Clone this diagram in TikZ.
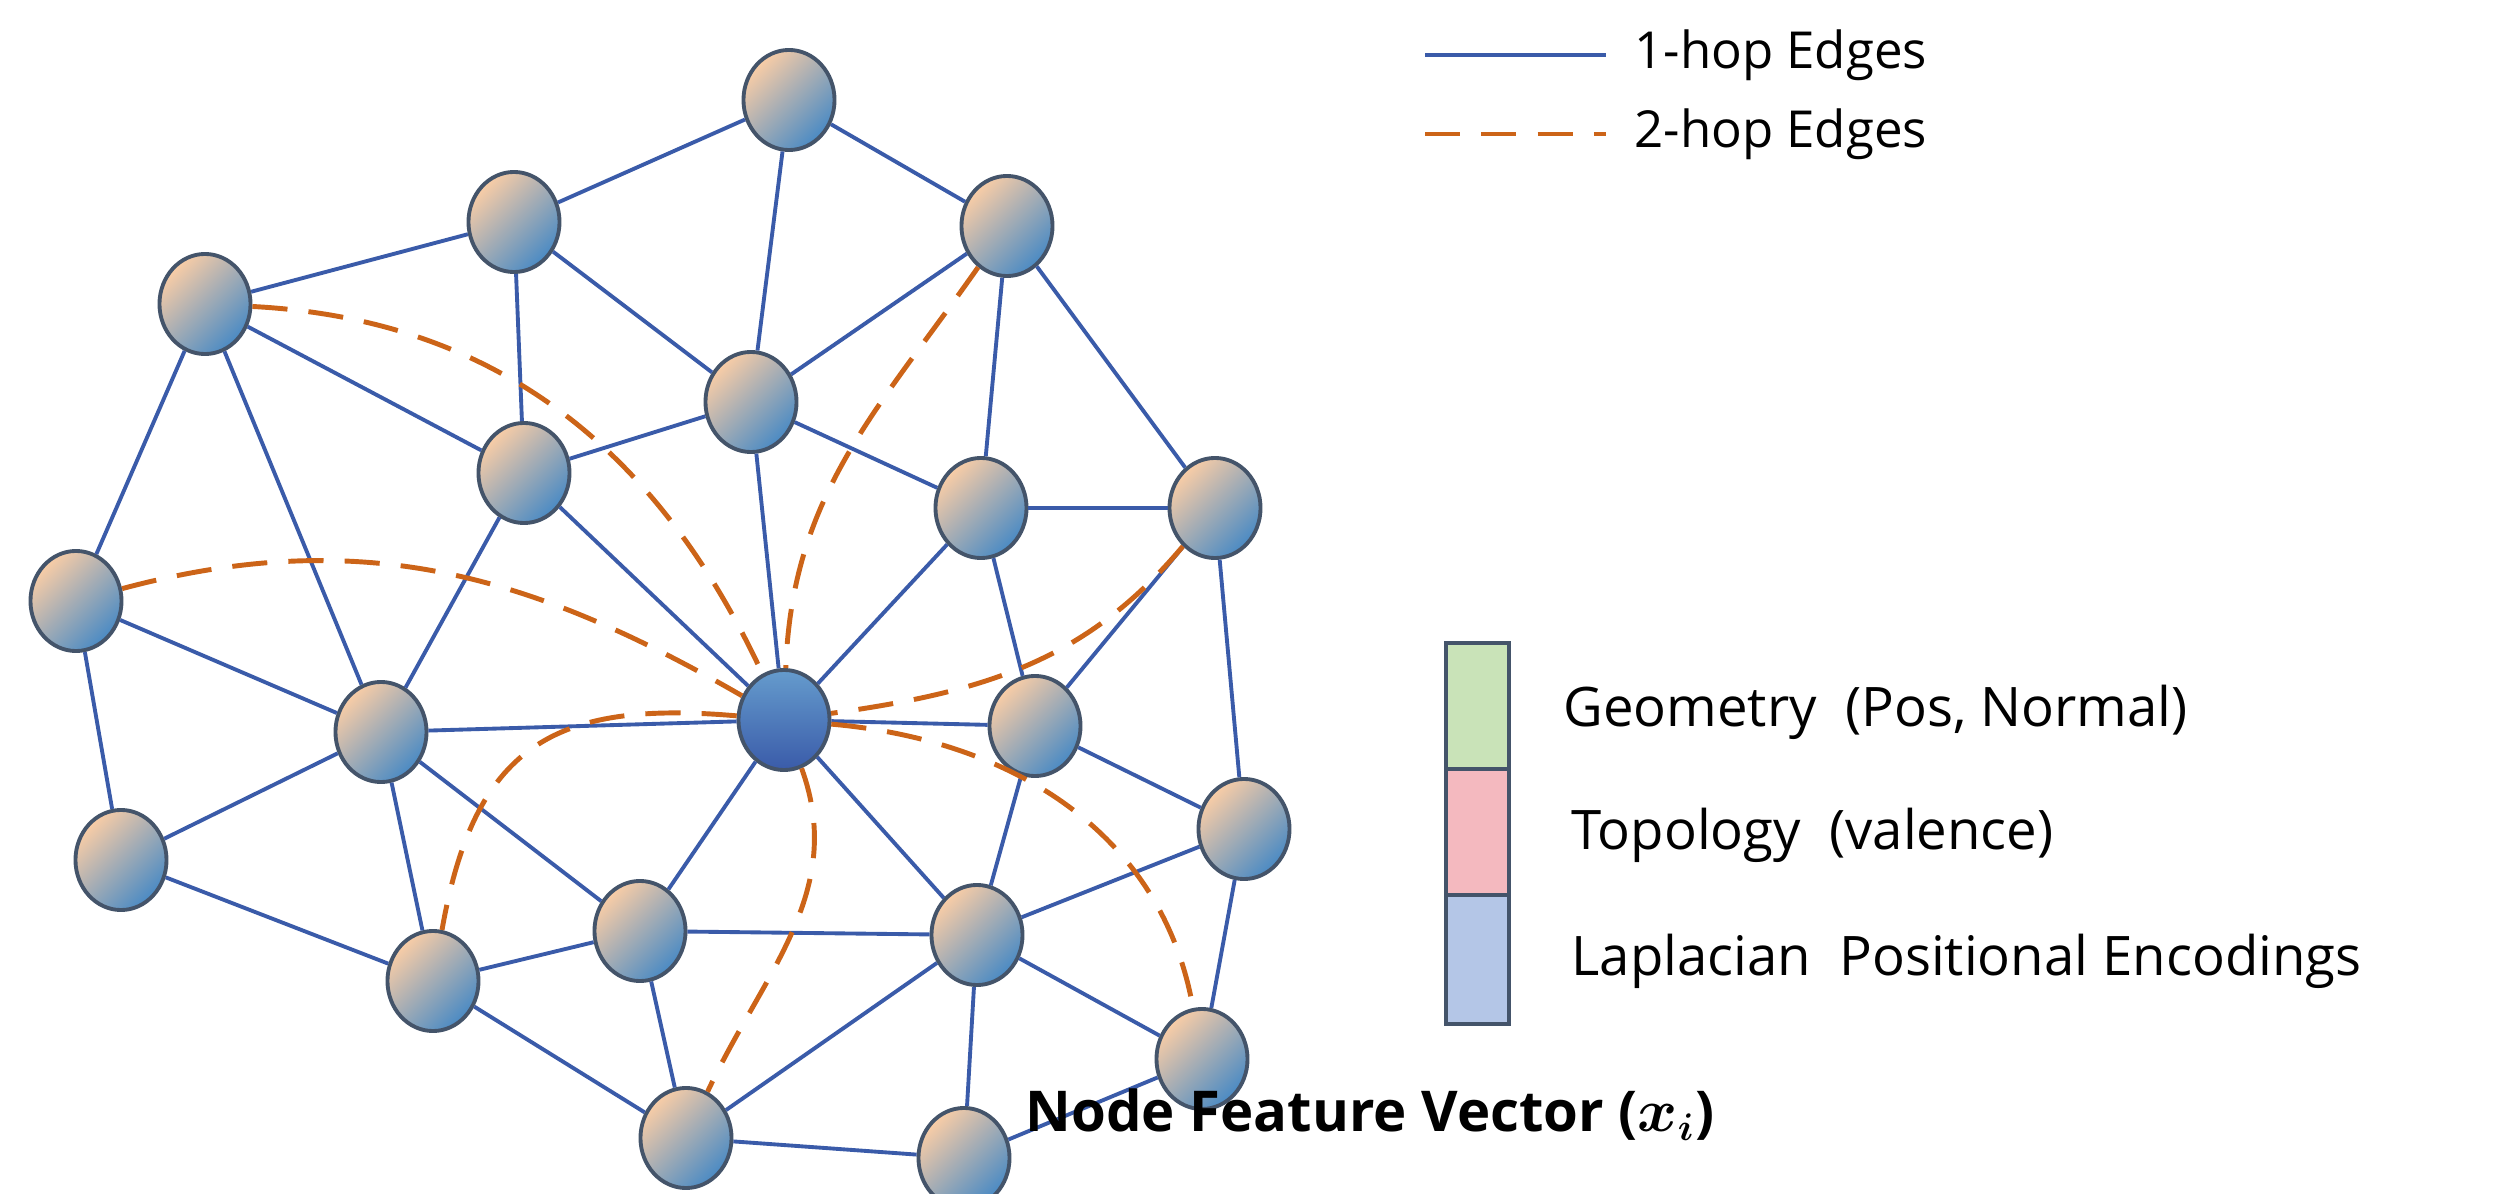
\documentclass[tikz,border=0pt]{standalone}
\usepackage{bm}
\usepackage{fontspec}
\setmainfont{Open Sans}
\usetikzlibrary{shapes.geometric}
\definecolor{peach}{HTML}{F9CDA6}
\definecolor{steel}{HTML}{4A8AC4}
\definecolor{edgeblue}{HTML}{3A5BA9}
\definecolor{hoporange}{HTML}{CC6418}
\definecolor{rim}{HTML}{44546A}
\definecolor{geogreen}{HTML}{C9E3B8}
\definecolor{topopink}{HTML}{F4B9BF}
\definecolor{lapblue}{HTML}{B4C6E7}
\tikzstyle{vertex}=[
	ellipse,
	minimum width=0.91cm,
	minimum height=1cm,
	line width=1.1pt,
	draw=rim,
	top color=peach,
	middle color=peach!95!steel,
	bottom color=steel,
	shading angle=45
]
\tikzstyle{anchorvertex}=[
	vertex,
	top color=steel!85!white,
	middle color=steel!60!edgeblue,
	bottom color=edgeblue
]
\tikzstyle{onehop}=[
	draw=edgeblue,
	line width=1.1pt
]
\tikzstyle{twohop}=[
	draw=hoporange,
	line width=1.4pt,
	dash pattern=on 10pt off 6pt
]
\tikzstyle{slot}=[
	draw=rim,
	line width=1.1pt
]
\tikzstyle{caption}=[
	anchor=west,
	font=\fontsize{14.5}{18}\selectfont
]

\begin{document}
\begin{tikzpicture}[x=0.01cm,y=0.01cm]
\useasboundingbox (0,0) rectangle (2520,1193);
% graph
\node [vertex] (Top) at (789,1093) {};
\node [vertex] (UpperA) at (514,971) {};
\node [vertex] (UpperB) at (1007,967) {};
\node [vertex] (FarNW) at (205,889) {};
\node [vertex] (InnerN) at (751,791) {};
\node [vertex] (InnerNW) at (524,720) {};
\node [vertex] (InnerNE) at (981,685) {};
\node [vertex] (FarE) at (1215,685) {};
\node [vertex] (FarW) at (76,592) {};
\node [anchorvertex] (Hub) at (784,473) {};
\node [vertex] (InnerW) at (381,461) {};
\node [vertex] (InnerE) at (1035,467) {};
\node [vertex] (FarSE) at (1244,364) {};
\node [vertex] (FarSW) at (121,333) {};
\node [vertex] (InnerS) at (640,262) {};
\node [vertex] (InnerSE) at (977,258) {};
\node [vertex] (LowerW) at (433,212) {};
\node [vertex] (LowerE) at (1202,134) {};
\node [vertex] (BottomA) at (686,55) {};
\node [vertex] (BottomB) at (964,35) {};

\foreach \u/\v in {Top/UpperA, Top/InnerN, Top/UpperB, UpperA/FarNW, UpperA/InnerNW,
	UpperA/InnerN, UpperB/InnerN, UpperB/InnerNE, UpperB/FarE, FarNW/InnerNW, FarNW/FarW,
	FarNW/InnerW, InnerN/InnerNW, InnerN/InnerNE, InnerN/Hub, InnerNW/InnerW, InnerNW/Hub,
	InnerNE/FarE, InnerNE/Hub, InnerNE/InnerE, FarE/InnerE, FarE/FarSE, FarW/InnerW,
	FarW/FarSW, InnerW/Hub, InnerW/FarSW, InnerW/LowerW, InnerW/InnerS, Hub/InnerS,
	Hub/InnerSE, Hub/InnerE, InnerE/InnerSE, InnerE/FarSE, FarSE/InnerSE, FarSE/LowerE,
	FarSW/LowerW, LowerW/InnerS, LowerW/BottomA, InnerS/BottomA, InnerS/InnerSE,
	InnerSE/BottomA, InnerSE/BottomB, InnerSE/LowerE, LowerE/BottomB, BottomA/BottomB}
	\path [onehop] (\u) -- (\v);

% 2-hop neighbours of the hub
\path [twohop] (FarNW) to [out=-3, in=115] (Hub);
\path [twohop] (FarW) to [out=15, in=150] (Hub);
\path [twohop] (UpperB) to [out=-125, in=88] (Hub);
\path [twohop] (FarE) to [out=-130, in=8] (Hub);
\path [twohop] (Hub) to [out=-5, in=100] (LowerE);
\path [twohop] (Hub) to [out=-70, in=65] (BottomA);
\path [twohop] (Hub) to [out=175, in=80, looseness=1.3] (LowerW);

% legend
\coordinate (OneA) at (1425,1138);
\coordinate (OneB) at (1606,1138);
\coordinate (TwoA) at (1425,1059);
\coordinate (TwoB) at (1606,1059);
\path [onehop] (OneA) -- (OneB);
\path [twohop] (TwoA) -- (TwoB);
\node [caption] (OneText) at (1622,1138) {1-hop Edges};
\node [caption] (TwoText) at (1622,1059) {2-hop Edges};

% feature vector
\path [slot, fill=geogreen] (1446,424) rectangle (1509,550);
\path [slot, fill=topopink] (1446,298) rectangle (1509,424);
\path [slot, fill=lapblue] (1446,169) rectangle (1509,298);
\node [caption, font=\fontsize{15.5}{18}\selectfont] (Geo) at (1551,481) {Geometry\ \ (Pos, Normal)};
\node [caption, font=\fontsize{15.5}{18}\selectfont] (Topo) at (1559,358) {Topology\ \ (valence)};
\node [caption, font=\fontsize{15.5}{18}\selectfont] (Lap) at (1559,232) {Laplacian\ \ Positional Encodings};
\node [font=\fontsize{16}{19}\selectfont\bfseries] (Title) at (1370,78) {Node Feature Vector ($\bm{x_i}$)};
\end{tikzpicture}
\end{document}
